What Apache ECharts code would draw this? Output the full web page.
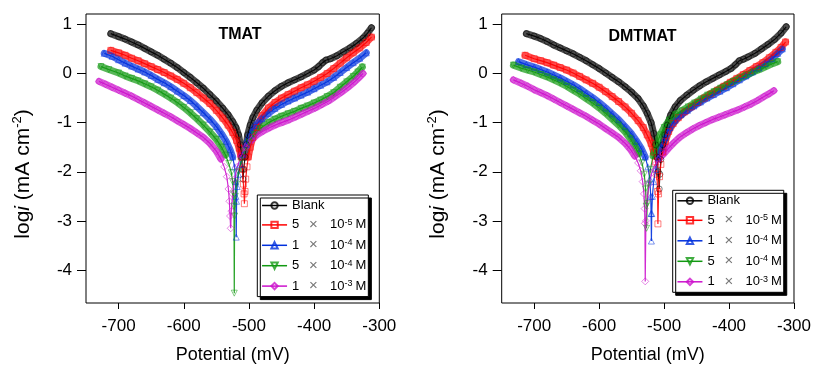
<!DOCTYPE html>
<html>
<head>
<meta charset="utf-8">
<script src="https://cdn.jsdelivr.net/npm/echarts@6/dist/echarts.min.js"></script>
<style>
html,body{margin:0;padding:0;background:#fff;}
#chart{width:814px;height:369px;}
</style>
</head>
<body>
<div id="chart"></div>
<script>
// ---- data: [potential mV, log i] ----
const seriesNames = ['Blank', '5e-5', '1e-4', '5e-4', '1e-3'];
const legendParts = [null, ['5', '-5'], ['1', '-4'], ['5', '-4'], ['1', '-3']];
const xTicks = [-700, -600, -500, -400, -300];
const yTicks = [-4, -3, -2, -1, 0, 1];
const panelTitles = ['TMAT', 'DMTMAT'];

// TMAT panel
const tmatBlank = [[-712,0.81],[-700,0.75],[-690,0.70],[-680,0.64],[-670,0.58],[-660,0.51],[-650,0.44],[-640,0.37],[-630,0.29],[-620,0.21],[-610,0.12],[-600,0.02],[-590,-0.08],[-580,-0.19],[-570,-0.30],[-560,-0.43],[-550,-0.56],[-540,-0.71],[-532,-0.84],[-525,-0.98],[-520,-1.10],[-516,-1.25],[-513,-1.45],[-511,-1.70],[-510,-1.95],[-509,-2.15],
  [-508,-1.95],[-506,-1.70],[-504,-1.45],[-502,-1.25],[-498,-1.05],[-494,-0.90],[-488,-0.75],[-480,-0.60],[-470,-0.46],[-460,-0.35],[-450,-0.26],[-440,-0.19],[-430,-0.13],[-420,-0.07],[-410,0.00],[-400,0.07],[-393,0.14],[-387,0.22],[-382,0.27],[-375,0.30],[-365,0.36],[-355,0.44],[-345,0.52],[-335,0.61],[-325,0.72],[-318,0.82],[-312,0.93]];
const tmat5e5 = [[-712,0.47],[-700,0.42],[-690,0.37],[-680,0.31],[-670,0.26],[-660,0.20],[-650,0.14],[-640,0.08],[-630,0.02],[-620,-0.05],[-610,-0.12],[-600,-0.20],[-590,-0.29],[-580,-0.39],[-570,-0.50],[-560,-0.61],[-550,-0.75],[-540,-0.91],[-532,-1.05],[-525,-1.20],[-519,-1.36],[-515,-1.52],[-512,-1.70],[-510,-1.95],[-508.5,-2.25],[-507.5,-2.45],[-507,-2.65],
  [-506,-2.40],[-505,-2.15],[-503,-1.90],[-501,-1.70],[-498,-1.50],[-494,-1.30],[-488,-1.10],[-480,-0.86],[-470,-0.70],[-460,-0.59],[-450,-0.50],[-440,-0.43],[-430,-0.36],[-420,-0.29],[-410,-0.23],[-400,-0.16],[-390,-0.08],[-380,0.00],[-370,0.10],[-360,0.21],[-350,0.32],[-340,0.42],[-330,0.52],[-320,0.63],[-312,0.74]];
const tmat1e4 = [[-722,0.41],[-710,0.35],[-700,0.28],[-690,0.21],[-680,0.15],[-670,0.09],[-660,0.03],[-650,-0.04],[-640,-0.12],[-630,-0.19],[-620,-0.27],[-610,-0.36],[-600,-0.45],[-590,-0.55],[-580,-0.67],[-570,-0.80],[-560,-0.93],[-550,-1.08],[-542,-1.23],[-535,-1.38],[-529,-1.55],[-525,-1.70],[-522,-1.90],[-520.5,-2.20],[-520,-2.50],[-519.5,-3.33],
  [-519,-2.60],[-518,-2.30],[-516,-2.05],[-513,-1.85],[-509,-1.65],[-504,-1.45],[-498,-1.25],[-490,-1.06],[-480,-0.92],[-470,-0.81],[-460,-0.71],[-450,-0.63],[-440,-0.56],[-430,-0.50],[-420,-0.44],[-410,-0.38],[-400,-0.31],[-390,-0.24],[-380,-0.17],[-370,-0.08],[-360,0.02],[-350,0.12],[-340,0.22],[-330,0.31],[-320,0.42]];
const tmat5e4 = [[-727,0.14],[-715,0.08],[-700,0.01],[-690,-0.05],[-680,-0.10],[-670,-0.15],[-660,-0.21],[-650,-0.27],[-640,-0.34],[-630,-0.42],[-620,-0.50],[-610,-0.59],[-600,-0.69],[-590,-0.80],[-580,-0.92],[-570,-1.05],[-560,-1.19],[-550,-1.34],[-542,-1.50],[-536,-1.66],[-531,-1.83],[-527,-2.02],[-525,-2.20],[-523.5,-2.45],[-523,-2.70],[-522.5,-4.47],
  [-522,-2.90],[-521,-2.50],[-519,-2.25],[-516,-2.00],[-512,-1.78],[-507,-1.58],[-500,-1.40],[-492,-1.24],[-483,-1.12],[-470,-1.00],[-460,-0.93],[-450,-0.87],[-440,-0.82],[-430,-0.77],[-420,-0.71],[-410,-0.66],[-400,-0.60],[-390,-0.54],[-380,-0.47],[-370,-0.39],[-360,-0.28],[-350,-0.17],[-340,-0.06],[-333,0.03],[-326,0.13]];
const tmat1e3 = [[-730,-0.16],[-720,-0.22],[-710,-0.28],[-700,-0.34],[-690,-0.40],[-680,-0.46],[-670,-0.53],[-660,-0.60],[-650,-0.67],[-640,-0.74],[-630,-0.81],[-620,-0.88],[-610,-0.96],[-600,-1.04],[-590,-1.12],[-580,-1.21],[-570,-1.30],[-560,-1.42],[-550,-1.58],[-543,-1.74],[-538,-1.90],[-534,-2.10],[-531.5,-2.35],[-530,-2.60],[-529,-2.90],[-528,-3.15],
  [-527,-2.80],[-525,-2.45],[-522,-2.15],[-518,-1.90],[-512,-1.68],[-505,-1.50],[-496,-1.35],[-487,-1.24],[-478,-1.17],[-468,-1.10],[-458,-1.04],[-448,-0.99],[-438,-0.94],[-428,-0.88],[-418,-0.82],[-408,-0.76],[-398,-0.70],[-388,-0.63],[-378,-0.56],[-368,-0.47],[-358,-0.38],[-348,-0.28],[-338,-0.17],[-331,-0.08],[-325,0.00]];

// DMTMAT panel
const dmBlank = [[-712,0.81],[-700,0.76],[-690,0.71],[-680,0.65],[-670,0.58],[-660,0.52],[-650,0.46],[-640,0.40],[-630,0.33],[-620,0.26],[-610,0.18],[-600,0.10],[-590,0.01],[-580,-0.08],[-570,-0.17],[-560,-0.27],[-550,-0.38],[-540,-0.51],[-532,-0.66],[-526,-0.81],[-520,-1.00],[-516,-1.22],[-513,-1.45],[-511,-1.70],[-509,-2.00],[-507.5,-2.35],
  [-506.5,-2.05],[-505,-1.75],[-502,-1.45],[-499,-1.25],[-495,-1.05],[-490,-0.85],[-483,-0.68],[-475,-0.55],[-465,-0.44],[-455,-0.34],[-445,-0.25],[-435,-0.17],[-425,-0.10],[-415,-0.03],[-405,0.04],[-397,0.10],[-390,0.18],[-384,0.26],[-378,0.29],[-370,0.34],[-360,0.41],[-350,0.50],[-340,0.59],[-330,0.69],[-320,0.82],[-312,0.95]];
const dm5e5 = [[-714,0.37],[-700,0.30],[-690,0.26],[-680,0.22],[-670,0.17],[-660,0.12],[-650,0.07],[-640,0.01],[-630,-0.06],[-620,-0.13],[-610,-0.20],[-600,-0.28],[-590,-0.37],[-580,-0.47],[-570,-0.57],[-560,-0.68],[-550,-0.81],[-540,-0.96],[-532,-1.10],[-526,-1.25],[-520,-1.42],[-516,-1.60],[-513,-1.80],[-511,-2.05],[-510,-2.40],[-509.5,-3.06],
  [-508.5,-2.45],[-507,-2.10],[-505,-1.85],[-502,-1.60],[-498,-1.38],[-493,-1.18],[-486,-1.02],[-478,-0.90],[-468,-0.78],[-458,-0.68],[-448,-0.59],[-438,-0.50],[-428,-0.42],[-418,-0.34],[-408,-0.26],[-398,-0.18],[-388,-0.10],[-378,-0.02],[-368,0.06],[-358,0.14],[-348,0.22],[-338,0.32],[-328,0.43],[-320,0.53],[-313,0.64]];
const dm1e4 = [[-724,0.24],[-712,0.18],[-700,0.13],[-690,0.08],[-680,0.03],[-670,-0.03],[-660,-0.09],[-650,-0.16],[-640,-0.23],[-630,-0.31],[-620,-0.40],[-610,-0.49],[-600,-0.59],[-590,-0.70],[-580,-0.82],[-570,-0.94],[-560,-1.08],[-550,-1.23],[-542,-1.38],[-535,-1.53],[-529,-1.70],[-525,-1.90],[-522,-2.15],[-520.5,-2.50],[-520,-2.85],[-519.5,-3.41],
  [-519,-2.85],[-518,-2.50],[-516,-2.20],[-513,-1.95],[-509,-1.72],[-504,-1.50],[-498,-1.30],[-491,-1.10],[-483,-0.95],[-474,-0.84],[-464,-0.75],[-454,-0.66],[-444,-0.58],[-434,-0.50],[-424,-0.43],[-414,-0.36],[-404,-0.29],[-394,-0.21],[-384,-0.13],[-374,-0.05],[-364,0.03],[-354,0.11],[-344,0.20],[-334,0.30],[-325,0.41],[-318,0.50]];
const dm5e4 = [[-732,0.17],[-720,0.11],[-710,0.07],[-700,0.03],[-690,-0.02],[-680,-0.07],[-670,-0.13],[-660,-0.19],[-650,-0.26],[-640,-0.34],[-630,-0.42],[-620,-0.51],[-610,-0.60],[-600,-0.70],[-590,-0.81],[-580,-0.93],[-570,-1.05],[-560,-1.19],[-552,-1.33],[-545,-1.48],[-539,-1.63],[-534,-1.82],[-530.5,-2.05],[-528.5,-2.35],[-527.5,-2.70],[-527,-3.15],
  [-526,-2.65],[-524,-2.25],[-521,-1.95],[-517,-1.68],[-512,-1.45],[-506,-1.25],[-500,-1.10],[-492,-0.95],[-483,-0.84],[-473,-0.76],[-463,-0.68],[-453,-0.60],[-443,-0.52],[-433,-0.44],[-423,-0.37],[-413,-0.30],[-403,-0.23],[-393,-0.16],[-383,-0.09],[-373,-0.03],[-363,0.03],[-353,0.08],[-343,0.14],[-333,0.20],[-325,0.24]];
const dm1e3 = [[-732,-0.13],[-720,-0.20],[-710,-0.26],[-700,-0.33],[-690,-0.39],[-680,-0.45],[-670,-0.52],[-660,-0.59],[-650,-0.66],[-640,-0.73],[-630,-0.80],[-620,-0.87],[-610,-0.95],[-600,-1.03],[-590,-1.12],[-580,-1.21],[-570,-1.30],[-560,-1.42],[-552,-1.54],[-545,-1.68],[-540,-1.82],[-536,-1.98],[-533,-2.20],[-531,-2.45],[-530,-2.75],[-529.5,-3.05],[-529,-4.23],
  [-528,-3.00],[-526,-2.55],[-523,-2.25],[-519,-2.02],[-514,-1.86],[-508,-1.74],[-501,-1.64],[-493,-1.52],[-485,-1.41],[-476,-1.30],[-466,-1.21],[-456,-1.13],[-446,-1.06],[-436,-1.00],[-426,-0.94],[-416,-0.89],[-406,-0.84],[-396,-0.79],[-386,-0.74],[-376,-0.68],[-366,-0.62],[-356,-0.55],[-346,-0.47],[-338,-0.41],[-331,-0.35]];

const panelData = [
  [tmatBlank, tmat5e5, tmat1e4, tmat5e4, tmat1e3],
  [dmBlank, dm5e5, dm1e4, dm5e4, dm1e3]
];

// ---- styling ----
const FONT = 'Liberation Sans, Arial, sans-serif';
const colors = ['#000000', '#ff0000', '#0030dd', '#119911', '#cc11cc'];
const symbols = ['circle', 'rect', 'triangle', 'triangle', 'diamond'];
const symbolRot = [0, 0, 0, 180, 0];
const symbolSizes = [6, 6, 6, 6, 7];
const bandCut = -1.75; // thick band drawn only where the curve is not in the steep tip

const chart = echarts.init(document.getElementById('chart'), null, {renderer: 'canvas'});

const gridLefts = [86, 501.7];
const grids = gridLefts.map(l => ({left: l, top: 14, width: 293.3, height: 293.7, show: true, borderColor: '#000', borderWidth: 1, backgroundColor: 'transparent'}));

const xAxes = [0, 1].map(g => ({
  type: 'value', gridIndex: g, min: -750, max: -300,
  axisLine: {show: false, onZero: false},
  axisTick: {show: true, inside: false, length: 6, lineStyle: {color: '#000', width: 1}, customValues: xTicks},
  axisLabel: {show: true, margin: 15, fontSize: 17, fontFamily: FONT, color: '#000', customValues: xTicks},
  splitLine: {show: false},
  name: 'Potential (mV)', nameLocation: 'middle', nameGap: 43,
  nameTextStyle: {fontSize: 18, fontFamily: FONT, color: '#000'}
}));
const yAxes = [0, 1].map(g => ({
  type: 'value', gridIndex: g, min: -4.67, max: 1.21,
  axisLine: {show: false, onZero: false},
  axisTick: {show: true, inside: false, length: 9, lineStyle: {color: '#000', width: 1}, customValues: yTicks},
  axisLabel: {show: true, margin: 14, fontSize: 17, fontFamily: FONT, color: '#000', customValues: yTicks},
  splitLine: {show: false}
}));

const series = [];
panelData.forEach((arrs, p) => {
  arrs.forEach((d, i) => {
    series.push({
      type: 'line', name: seriesNames[i] + ' band', xAxisIndex: p, yAxisIndex: p,
      data: d.map(pt => pt[1] > bandCut ? pt : [pt[0], '-']),
      showSymbol: false, silent: true,
      lineStyle: {color: colors[i], width: 7, opacity: 0.7, cap: 'round', join: 'round'},
      emphasis: {disabled: true}, animation: false
    });
  });
  arrs.forEach((d, i) => {
    series.push({
      type: 'line', name: seriesNames[i], xAxisIndex: p, yAxisIndex: p,
      data: d, showSymbol: true, showAllSymbol: true,
      symbol: symbols[i], symbolRotate: symbolRot[i], symbolSize: symbolSizes[i],
      lineStyle: {color: colors[i], width: 1.2, opacity: 0.9},
      itemStyle: {color: 'rgba(255,255,255,0)', borderColor: colors[i], borderWidth: 1, opacity: 0.5},
      emphasis: {disabled: true},
      animation: false
    });
  });
});

function legendFormatter(name) {
  const idx = seriesNames.indexOf(name);
  if (idx === 0) return '{n|Blank}';
  const pr = legendParts[idx];
  return '{a|' + pr[0] + '}{x|×}{t|10}{s|' + pr[1] + '}{m|M}';
}
const legendRich = {
  n: {fontSize: 13, fontFamily: FONT, color: '#000', lineHeight: 14},
  a: {fontSize: 13, fontFamily: FONT, color: '#000', lineHeight: 14, width: 17},
  x: {fontSize: 15, fontFamily: FONT, color: '#777', lineHeight: 14, width: 21},
  t: {fontSize: 13, fontFamily: FONT, color: '#000', lineHeight: 14},
  s: {fontSize: 9, fontFamily: FONT, color: '#000', lineHeight: 14, verticalAlign: 'top'},
  m: {fontSize: 13, fontFamily: FONT, color: '#000', lineHeight: 14, padding: [0, 0, 0, 3]}
};
const legends = [[257.3, 195, 5.4], [672.7, 190.3, 5.5]].map(pos => ({
  orient: 'vertical', left: pos[0], top: pos[1],
  data: seriesNames.map((n, i) => ({name: n, lineStyle: {width: 1.5, opacity: 1, color: colors[i]}, itemStyle: {opacity: 0.8}})),
  itemWidth: 25, itemHeight: 8, itemGap: pos[2],
  padding: [4, 2, 3, 4],
  backgroundColor: '#fff', borderColor: '#000', borderWidth: 1,
  shadowColor: '#000', shadowBlur: 0, shadowOffsetX: 3, shadowOffsetY: 3,
  formatter: legendFormatter,
  textStyle: {rich: legendRich, fontSize: 13, fontFamily: FONT},
  selectedMode: false
}));

const yTitleText = '{r|log}{i|i}{r| (mA cm}{s|-2}{r|)}';
const yTitleRich = {
  r: {fontSize: 21, fontFamily: FONT, fill: '#000', lineHeight: 25},
  i: {fontSize: 21, fontFamily: FONT, fontStyle: 'italic', fill: '#000', lineHeight: 25},
  s: {fontSize: 13, fontFamily: FONT, fill: '#000', lineHeight: 25, verticalAlign: 'top'}
};

const graphics = [];
[[23, 174], [438.5, 174]].forEach(pt => {
  graphics.push({type: 'text', x: pt[0], y: pt[1], rotation: Math.PI / 2,
    style: {text: yTitleText, rich: yTitleRich, align: 'center', verticalAlign: 'middle'}});
});
[[240, 35], [642.5, 37]].forEach((pt, k) => {
  graphics.push({type: 'text', x: pt[0], y: pt[1],
    style: {text: panelTitles[k], fontSize: 16, fontWeight: 'bold', fontFamily: FONT, fill: '#000', align: 'center', verticalAlign: 'middle'}});
});

chart.setOption({
  animation: false,
  backgroundColor: '#fff',
  grid: grids,
  xAxis: xAxes,
  yAxis: yAxes,
  legend: legends,
  series: series,
  graphic: graphics
});
</script>
</body>
</html>
